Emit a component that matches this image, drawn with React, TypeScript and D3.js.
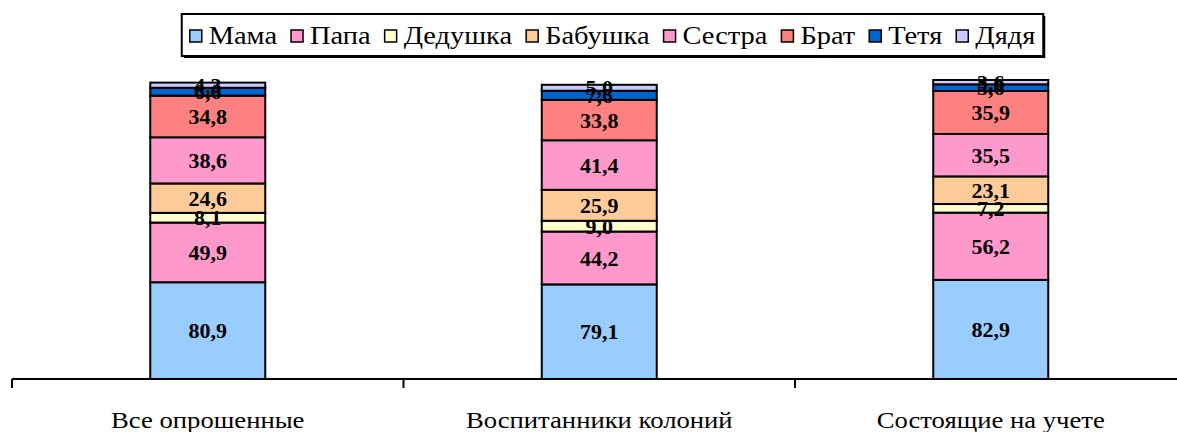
import React, { useEffect, useRef } from "react";
import * as d3 from "d3";

// groups of respondents (x axis)
const groups = ["Все опрошенные", "Воспитанники колоний", "Состоящие на учете"];
// series, bottom to top
const relatives = ["Мама", "Папа", "Дедушка", "Бабушка", "Сестра", "Брат", "Тетя", "Дядя"];
const mama = [80.9, 79.1, 82.9];
const papa = [49.9, 44.2, 56.2];
const dedushka = [8.1, 9.0, 7.2];
const babushka = [24.6, 25.9, 23.1];
const sestra = [38.6, 41.4, 35.5];
const brat = [34.8, 33.8, 35.9];
const tetya = [6.6, 7.6, 5.6];
const dyadya = [4.3, 5.0, 3.6];
const colors = ["#99ccff", "#ff99cc", "#ffffcc", "#ffcc99", "#ff99cc", "#ff8080", "#0066cc", "#ccccff"];

const W = 1177, H = 432;
const serif = "'Liberation Serif', 'Times New Roman', serif";
// the original text looks a bit stretched sideways
const stretch = 1.16;

export default function App() {
  const ref = useRef<SVGSVGElement>(null);

  useEffect(() => {
    const svg = d3.select(ref.current);
    svg.selectAll("*").remove();

    const series = [mama, papa, dedushka, babushka, sestra, brat, tetya, dyadya];
    const table = groups.map((g, i) => {
      const row: any = { group: g };
      relatives.forEach((r, j) => (row[r] = series[j][i]));
      return row;
    });
    const stacked = d3.stack().keys(relatives)(table);

    const x = d3.scaleBand().domain(groups).range([12, 1186.5]).paddingInner(0).paddingOuter(0);
    const y = d3.scaleLinear().domain([0, 250]).range([379, 80]);
    const barW = 115;

    const layers = svg.append("g")
      .selectAll("g")
      .data(stacked)
      .join("g")
      .attr("fill", (d, i) => colors[i]);

    layers.selectAll("rect")
      .data(d => d)
      .join("rect")
      .attr("x", (d: any) => x(d.data.group)! + x.bandwidth() / 2 - barW / 2)
      .attr("y", d => y(d[1]))
      .attr("width", barW)
      .attr("height", d => y(d[0]) - y(d[1]))
      .attr("stroke", "#000")
      .attr("stroke-width", 2);

    // value labels
    const labels = svg.append("g");
    stacked.forEach(layer => {
      layer.forEach((d: any) => {
        labels.append("text")
          .attr("x", x(d.data.group)! + x.bandwidth() / 2)
          .attr("y", (y(d[0]) + y(d[1])) / 2)
          .attr("dy", "0.35em")
          .attr("text-anchor", "middle")
          .style("font-family", serif)
          .style("font-size", "22px")
          .style("font-weight", "bold")
          .text(d3.format(".1f")(d.data[layer.key]).replace(".", ","));
      });
    });

    // x axis
    const axis = svg.append("g");
    axis.append("line")
      .attr("x1", 12).attr("x2", W)
      .attr("y1", 379).attr("y2", 379)
      .attr("stroke", "#000").attr("stroke-width", 2);
    groups.forEach(g => {
      axis.append("line")
        .attr("x1", x(g)!).attr("x2", x(g)!)
        .attr("y1", 379).attr("y2", 388)
        .attr("stroke", "#000").attr("stroke-width", 2);
      axis.append("text")
        .attr("transform", `translate(${x(g)! + x.bandwidth() / 2},428) scale(${stretch},1)`)
        .attr("text-anchor", "middle")
        .style("font-family", serif)
        .style("font-size", "23px")
        .text(g);
    });

    // legend
    const legend = svg.append("g");
    const sw = 12, gapText = 7, gapItem = 14, fs = 24.5;
    const widths = relatives.map(r => {
      const t = legend.append("text").style("font-family", serif).style("font-size", fs + "px").text(r);
      const w = (t.node() as SVGTextElement).getComputedTextLength() * stretch;
      t.remove();
      return w;
    });
    const total = d3.sum(widths) + relatives.length * (sw + gapText) + (relatives.length - 1) * gapItem;
    const padX = 8;
    const boxW = total + padX * 2;
    const boxX = 612.5 - boxW / 2, boxY = 14, boxH = 42;
    legend.append("rect")
      .attr("x", boxX + 2).attr("y", boxY + 2).attr("width", boxW).attr("height", boxH)
      .attr("fill", "#000");
    legend.append("rect")
      .attr("x", boxX).attr("y", boxY).attr("width", boxW).attr("height", boxH)
      .attr("fill", "#fff").attr("stroke", "#000").attr("stroke-width", 2);
    let cx = boxX + padX;
    relatives.forEach((r, i) => {
      legend.append("rect")
        .attr("x", cx).attr("y", 30).attr("width", sw).attr("height", sw)
        .attr("fill", colors[i]).attr("stroke", "#000").attr("stroke-width", 1.5);
      legend.append("text")
        .attr("transform", `translate(${cx + sw + gapText},44) scale(${stretch},1)`)
        .style("font-family", serif).style("font-size", fs + "px")
        .text(r);
      cx += sw + gapText + widths[i] + gapItem;
    });
  }, []);

  return (
    <svg ref={ref} width={W} height={H}
      style={{ position: "absolute", left: 0, top: 0, background: "#fff" }} />
  );
}
